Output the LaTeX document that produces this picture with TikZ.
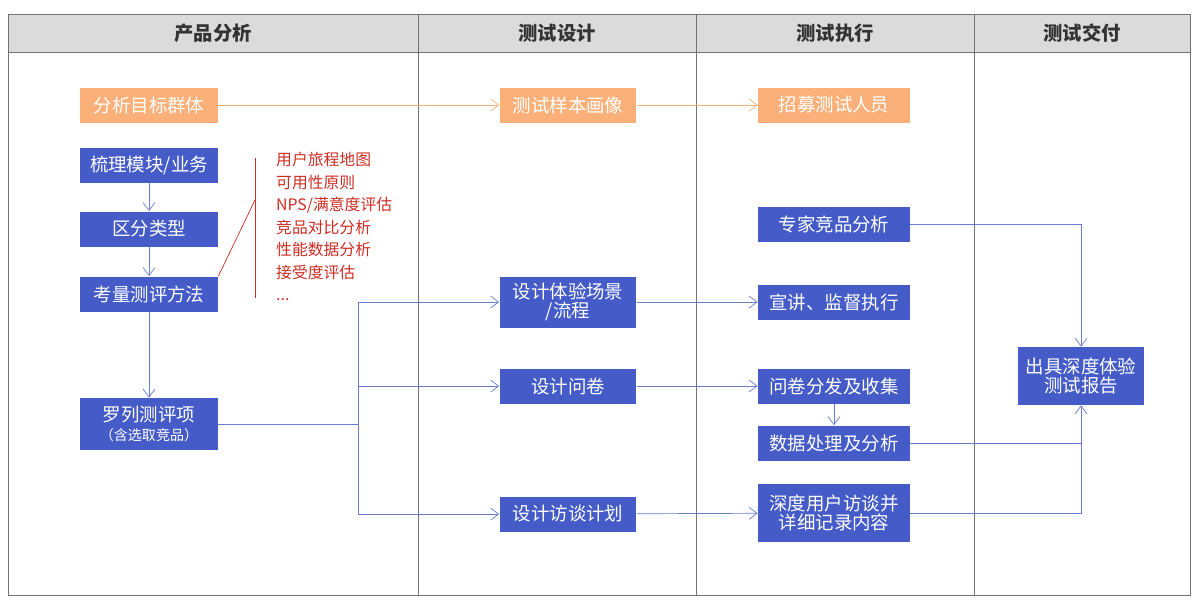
\documentclass[tikz,border=0pt]{standalone}
\usepackage{fontspec}
\setmainfont{Noto Sans CJK SC}
\usetikzlibrary{arrows.meta, positioning}
\definecolor{boxblue}{RGB}{68,91,200}
\definecolor{boxorange}{RGB}{250,176,120}
\definecolor{listred}{RGB}{205,45,35}
\begin{document}
\begin{tikzpicture}[
        x = 0.02cm, y = -0.02cm,
        blue box/.style = {fill=boxblue, text=white, font=\fontsize{10.5}{12}\selectfont, minimum height = 0.7cm, inner sep = 1pt, align=center},
        orange box/.style = {blue box, fill=boxorange},
        head/.style = {font=\fontsize{11}{12}\selectfont\bfseries, text=black!80},
        link/.style = {draw=boxblue!80, -{Straight Barb[length=1.6mm, width=2.4mm]}},
        olink/.style = {draw=boxorange, -{Straight Barb[length=1.6mm, width=2.4mm]}}
    ]
    \useasboundingbox (0,0) rectangle (1200,603);

    % frame and columns
    \fill[black!14] (8,14) rectangle (1190,52);
    \draw[black!55] (8,14) rectangle (1190,595);
    \draw[black!55] (8,52) -- (1190,52);
    \foreach \xc in {418, 696, 974}
        \draw[black!55] (\xc,14) -- (\xc,595);
    \node[head] (h1) at (213,33) {产品分析};
    \node[head] (h2) at (557,33) {测试设计};
    \node[head] (h3) at (835,33) {测试执行};
    \node[head] (h4) at (1082,33) {测试交付};

    % boxes
    \node[orange box, minimum width = 2.76cm] (target) at (149,105) {分析目标群体};
    \node[orange box, minimum width = 2.74cm] (sample) at (568,105) {测试样本画像};
    \node[orange box, minimum width = 3.04cm] (recruit) at (834,105) {招募测试人员};

    \node[blue box, minimum width = 2.76cm] (sort) at (149,165) {梳理模块/业务};
    \node[blue box, minimum width = 2.76cm] (type) at (149,229) {区分类型};
    \node[blue box, minimum width = 2.76cm] (method) at (149,294) {考量测评方法};
    \node[blue box, minimum width = 2.76cm, minimum height = 1.04cm] (items) at (149,424)
        {罗列测评项\\[-1pt]{\fontsize{8}{9}\selectfont （含选取竞品）}};

    \node[blue box, minimum width = 2.74cm, minimum height = 1.02cm] (scene) at (568,302) {设计体验场景\\[-1pt]/流程};
    \node[blue box, minimum width = 2.74cm] (quest) at (568,386) {设计问卷};
    \node[blue box, minimum width = 2.74cm] (plan) at (568,514) {设计访谈计划};

    \node[blue box, minimum width = 3.04cm] (expert) at (834,224) {专家竞品分析};
    \node[blue box, minimum width = 3.04cm] (brief) at (834,302) {宣讲、监督执行};
    \node[blue box, minimum width = 3.04cm] (collect) at (834,386) {问卷分发及收集};
    \node[blue box, minimum width = 3.04cm] (data) at (834,443) {数据处理及分析};
    \node[blue box, minimum width = 3.04cm, minimum height = 1.16cm] (interview) at (834,513) {深度用户访谈并\\[-1pt]详细记录内容};

    \node[blue box, minimum width = 2.52cm, minimum height = 1.16cm] (report) at (1081,376) {出具深度体验\\[-1pt]测试报告};

    % method list
    \node[text=listred, font=\fontsize{9}{12.8}\selectfont, align=left, anchor=north west] (list) at (270,146)
        {用户旅程地图\\可用性原则\\NPS/满意度评估\\竞品对比分析\\性能数据分析\\接受度评估\\...};
    \coordinate (brace top) at (255,158);
    \coordinate (brace bot) at (255,298);
    \coordinate (brace mid) at (255,200);
    \draw[listred] (brace top) -- (brace bot);
    \draw[listred] (method.north east) -- (brace mid);

    % connectors
    \draw[olink] (target) -- (sample);
    \draw[olink] (sample) -- (recruit);
    \draw[link] (sort) -- (type);
    \draw[link] (type) -- (method);
    \draw[link] (method) -- (items);
    \coordinate (split) at (358,424);
    \draw[draw=boxblue!80] (items) -- (split);
    \draw[link] (split) |- (scene);
    \draw[link] (split) |- (quest);
    \draw[link] (split) |- (plan);
    \draw[link] (scene) -- (brief);
    \draw[link] (quest) -- (collect);
    \draw[link] (plan) -- (interview);
    \draw[link] (collect) -- (data);
    \draw[link] (expert) -| (report);
    \draw[link] (interview) -| (report);
    \draw[draw=boxblue!80] (data.east) -- (data.east -| report);
\end{tikzpicture}
\end{document}
